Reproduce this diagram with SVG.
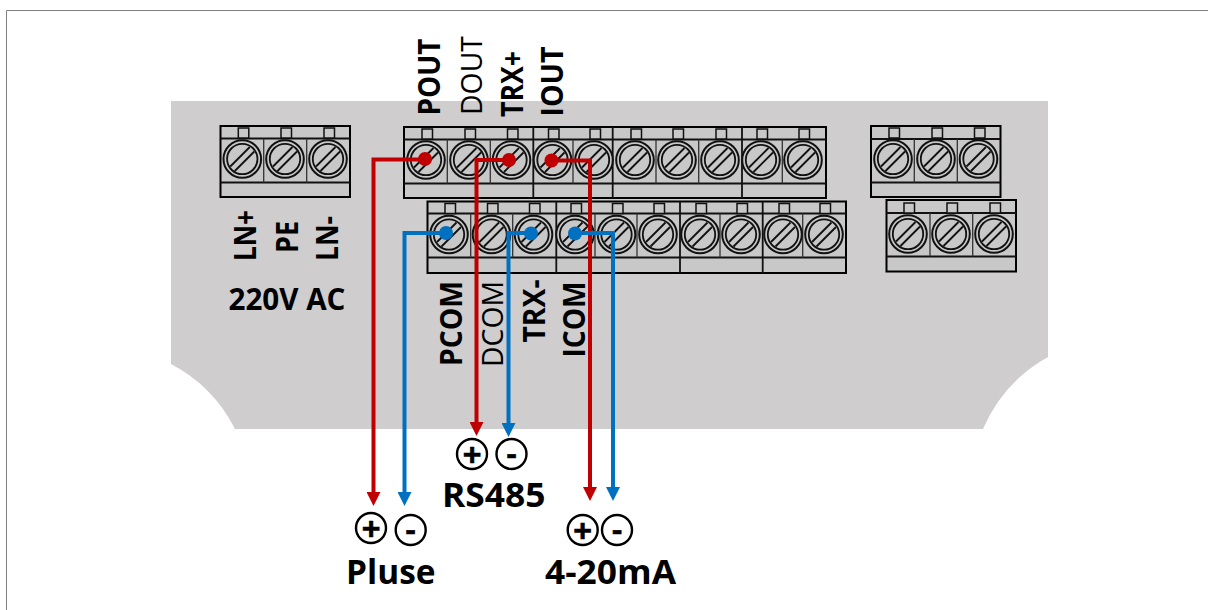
<svg xmlns="http://www.w3.org/2000/svg" width="1211" height="610" viewBox="0 0 1211 610">
<style>
text{font-family:"Open Sans","Noto Sans","Liberation Sans",sans-serif;fill:#000}
.b{font-weight:700}
.v{font-size:30px}
.t{font-size:33.600px;font-weight:700}
.p,.m{font-family:"Liberation Sans",Arial,sans-serif;font-size:32px;font-weight:700;text-anchor:middle;stroke:#000;stroke-width:.6px}
.block{fill:#c8c8c8;stroke:#000;stroke-width:2}
.line{stroke:#111;stroke-width:1.8;fill:none}
.div{stroke:#333;stroke-width:1.3;fill:none}
.red{stroke:#c00000;stroke-width:4;fill:none}
.blue{stroke:#0070c0;stroke-width:4;fill:none}
.ring{fill:#fff;stroke:#000;stroke-width:2.4}
</style>
<defs>
<g id="screw">
<rect x="-4" y="-31" width="10.500" height="10" fill="#c8c8c8" stroke="#111" stroke-width="1.500"/>
<circle r="18.800" fill="#c8c8c8" stroke="#111" stroke-width="2"/>
<circle r="15.200" fill="#c8c8c8" stroke="#111" stroke-width="1.800"/>
<path d="M-12-7.500 7.500 12M-7.500-12 12 7.500" transform="rotate(90)" fill="none" stroke="#111" stroke-width="1.800"/>
</g>
<marker id="ar" markerUnits="userSpaceOnUse" markerWidth="14" markerHeight="14" refX="4" refY="7" orient="auto"><path d="M0 0 14 7 0 14z" fill="#c00000"/></marker>
<marker id="ab" markerUnits="userSpaceOnUse" markerWidth="14" markerHeight="14" refX="4" refY="7" orient="auto"><path d="M0 0 14 7 0 14z" fill="#0070c0"/></marker>
</defs>
<path id="frame" d="M1208 10.500H6.500V610" fill="none" stroke="#808080" stroke-width="1"/>
<path id="body" d="M171 101H1048V357A150 150 0 0 0 983 429H235A150 150 0 0 0 171 364Z" fill="#cfcdce"/>

<g id="block-ac">
<rect class="block" x="220.500" y="126" width="129.500" height="71"/>
<path class="line" d="M220.500 138.500H350M220.500 182.500H350"/>
<path class="div" d="M263.700 138.500V182.500M306.700 138.500V182.500"/>
<use href="#screw" x="242.300" y="159"/><use href="#screw" x="285" y="159"/><use href="#screw" x="328" y="159"/>
</g>
<g id="block-top">
<rect class="block" x="404" y="127" width="422" height="71"/>
<path class="line" d="M404 139.500H826M404 183.500H826M533.300 127V198M612.700 127V198M742 127V198"/>
<path class="div" d="M447.300 139.500V183.500M490.300 139.500V183.500M573 139.500V183.500M656 139.500V183.500M698.700 139.500V183.500M782.300 139.500V183.500"/>
<use href="#screw" x="426" y="160"/><use href="#screw" x="469" y="160"/><use href="#screw" x="511.500" y="160"/><use href="#screw" x="552.500" y="160"/><use href="#screw" x="594" y="160"/><use href="#screw" x="635" y="160"/><use href="#screw" x="677" y="160"/><use href="#screw" x="720" y="160"/><use href="#screw" x="761" y="160"/><use href="#screw" x="803" y="160"/>
</g>
<g id="block-bottom">
<rect class="block" x="427.500" y="201.500" width="418.500" height="71.500"/>
<path class="line" d="M427.500 213.500H846M427.500 257.500H846M556.300 201.500V273M680 201.500V273M762.700 201.500V273"/>
<path class="div" d="M470.700 213.500V257.500M512.700 213.500V257.500M595 213.500V257.500M637 213.500V257.500M720 213.500V257.500M802.700 213.500V257.500"/>
<use href="#screw" x="449" y="234.500"/><use href="#screw" x="491.500" y="234.500"/><use href="#screw" x="533.500" y="234.500"/><use href="#screw" x="575" y="234.500"/><use href="#screw" x="616.500" y="234.500"/><use href="#screw" x="658" y="234.500"/><use href="#screw" x="700" y="234.500"/><use href="#screw" x="741" y="234.500"/><use href="#screw" x="783" y="234.500"/><use href="#screw" x="824" y="234.500"/>
</g>
<g id="block-right1">
<rect class="block" x="871" y="126" width="129.500" height="71"/>
<path class="line" d="M871 139H1000.500M871 182.500H1000.500"/>
<path class="div" d="M914.300 139V182.500M957.300 139V182.500"/>
<use href="#screw" x="893" y="159"/><use href="#screw" x="936" y="159"/><use href="#screw" x="978.500" y="159"/>
</g>
<g id="block-right2">
<rect class="block" x="886.500" y="200" width="129.500" height="71.500"/>
<path class="line" d="M886.500 213H1016M886.500 256.500H1016"/>
<path class="div" d="M930 213V256.500M972.700 213V256.500"/>
<use href="#screw" x="908" y="234"/><use href="#screw" x="951" y="234"/><use href="#screw" x="994" y="234"/>
</g>

<g id="connectors">
<path class="red" marker-end="url(#ar)" d="M426 159.500H373.500V496"/>
<path class="red" marker-end="url(#ar)" d="M509 160H476.500V426"/>
<path class="red" marker-end="url(#ar)" d="M551 160.500H590V491"/>
<path class="blue" marker-end="url(#ab)" d="M446 233H404.500V496"/>
<path class="blue" marker-end="url(#ab)" d="M531 233H508.500V427"/>
<path class="blue" marker-end="url(#ab)" d="M575 233H613V491"/>
<g fill="#c00000"><circle cx="425" cy="159" r="7"/><circle cx="509" cy="160" r="7"/><circle cx="551.500" cy="160.500" r="7"/></g>
<g fill="#0070c0"><circle cx="446" cy="233" r="7"/><circle cx="531" cy="233.500" r="7"/><circle cx="575" cy="233.500" r="7"/></g>
</g>

<g id="labels-top" class="v">
<text class="b" textLength="77" lengthAdjust="spacingAndGlyphs" transform="translate(440 115.500) rotate(-90)">POUT</text>
<text textLength="79" lengthAdjust="spacingAndGlyphs" transform="translate(481.700 115) rotate(-90)">DOUT</text>
<text class="b" textLength="66" lengthAdjust="spacingAndGlyphs" transform="translate(522.700 117) rotate(-90)">TRX+</text>
<text class="b" textLength="70" lengthAdjust="spacingAndGlyphs" transform="translate(562.700 116.500) rotate(-90)">IOUT</text>
</g>
<g id="labels-bottom" class="v">
<text class="b" textLength="85" lengthAdjust="spacingAndGlyphs" transform="translate(461.700 366) rotate(-90)">PCOM</text>
<text textLength="86" lengthAdjust="spacingAndGlyphs" transform="translate(503.300 367) rotate(-90)">DCOM</text>
<text class="b" textLength="63" lengthAdjust="spacingAndGlyphs" transform="translate(545 342.500) rotate(-90)">TRX-</text>
<text class="b" textLength="76" lengthAdjust="spacingAndGlyphs" transform="translate(585 357.500) rotate(-90)">ICOM</text>
</g>
<g id="labels-ac" class="v">
<text class="b" textLength="51" lengthAdjust="spacingAndGlyphs" transform="translate(255.700 261) rotate(-90)">LN+</text>
<text class="b" textLength="32" lengthAdjust="spacingAndGlyphs" transform="translate(297.700 253) rotate(-90)">PE</text>
<text class="b" textLength="45" lengthAdjust="spacingAndGlyphs" transform="translate(338 261) rotate(-90)">LN-</text>
<text class="b" x="228.500" y="310" textLength="117" lengthAdjust="spacingAndGlyphs">220V AC</text>
</g>

<g id="pluse">
<circle class="ring" cx="371" cy="528" r="15"/><text class="p" x="371" y="538.500">+</text>
<circle class="ring" cx="410.700" cy="530" r="15"/><text class="m" x="410.700" y="540">-</text>
<text class="t" x="346" y="584" textLength="89.500" lengthAdjust="spacingAndGlyphs">Pluse</text>
</g>
<g id="rs485">
<circle class="ring" cx="472" cy="454" r="15"/><text class="p" x="472" y="464.500">+</text>
<circle class="ring" cx="511.500" cy="454" r="15"/><text class="m" x="511.500" y="464">-</text>
<text class="t" x="442" y="507" textLength="103.500" lengthAdjust="spacingAndGlyphs">RS485</text>
</g>
<g id="ma">
<circle class="ring" cx="582.700" cy="530" r="15"/><text class="p" x="582.700" y="540.500">+</text>
<circle class="ring" cx="617" cy="530" r="15"/><text class="m" x="617" y="540">-</text>
<text class="t" x="545" y="584" textLength="131" lengthAdjust="spacingAndGlyphs">4-20mA</text>
</g>
</svg>
